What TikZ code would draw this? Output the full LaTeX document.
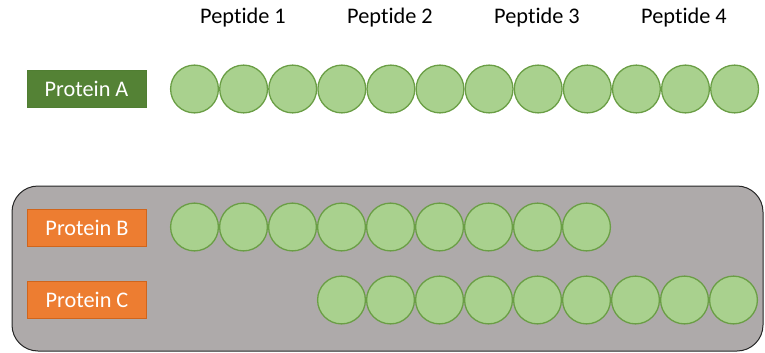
\documentclass[tikz,border=0pt]{standalone}
\usepackage{fontspec}
\setmainfont[Ligatures={NoCommon}]{Carlito}
\definecolor{pepfill}{HTML}{A9D18E}
\definecolor{pepline}{HTML}{6A9E45}
\definecolor{greenbox}{HTML}{548235}
\definecolor{greenline}{HTML}{507E32}
\definecolor{orangebox}{HTML}{ED7D31}
\definecolor{orangeline}{HTML}{D0651C}
\definecolor{panel}{HTML}{AEAAAA}
\tikzset{
  pep/.style={circle, fill=pepfill, draw=pepline, line width=1.3pt, minimum size=47.8pt, inner sep=0pt},
  protlabel/.style={minimum width=119pt, minimum height=37pt, inner sep=0pt, text=white, font=\fontsize{22.3}{26}\selectfont, line width=1pt},
  peplabel/.style={font=\fontsize{22.3}{26}\selectfont, text=black, inner sep=0pt}
}
\begin{document}
\begin{tikzpicture}[x=1pt,y=-1pt]
\useasboundingbox (0,0) rectangle (765,353);
% panel
\draw[fill=panel, draw=black!85, line width=1pt, rounded corners=26pt] (12,186) rectangle (763,351);
% peptide labels
\node[peplabel] (p1) at (243,18) {Peptide 1};
\node[peplabel] (p2) at (390,18) {Peptide 2};
\node[peplabel] (p3) at (537,18) {Peptide 3};
\node[peplabel] (p4) at (684,18) {Peptide 4};
% protein labels
\node[protlabel, fill=greenbox, draw=greenline] (pa) at (86.5,89) {Protein A};
\node[protlabel, fill=orangebox, draw=orangeline] (pb) at (87,227.5) {Protein B};
\node[protlabel, fill=orangebox, draw=orangeline] (pc) at (87,300) {Protein C};
% row A
\foreach \i in {1,...,12} {
  \node[pep] (a\i) at ({194.5+49.1*(\i-1)},89) {};
}
% row B
\foreach \i in {1,...,9} {
  \node[pep] (b\i) at ({194.5+49*(\i-1)},227) {};
}
% row C
\foreach \i in {1,...,9} {
  \node[pep] (c\i) at ({341.5+49*(\i-1)},300) {};
}
\end{tikzpicture}
\end{document}
